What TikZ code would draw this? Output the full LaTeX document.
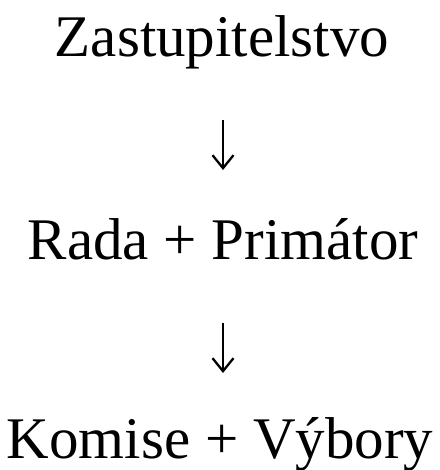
\documentclass[tikz,border=0pt]{standalone}
\usepackage{fontspec}
\setmainfont{Liberation Serif}
\usetikzlibrary{arrows.meta}
\begin{document}
\begin{tikzpicture}[x=1pt,y=1pt,
  lbl/.style={inner sep=0pt, anchor=base, font=\fontsize{59}{70}\selectfont},
  link/.style={line width=2.3pt, -{Straight Barb[length=13pt,width=21pt,line width=2.3pt]}}]
\useasboundingbox (0,0) rectangle (439,470);
\node[lbl] (z) at (222,413) {Zastupitelstvo};
\node[lbl] (r) at (223,210) {Rada + Primátor};
\node[lbl] (k) at (220,12) {Komise + Výbory};
\coordinate (a1s) at (223,350);
\coordinate (a1e) at (223,300);
\coordinate (a2s) at (223,147);
\coordinate (a2e) at (223,97);
\draw[link] (a1s) -- (a1e);
\draw[link] (a2s) -- (a2e);
\end{tikzpicture}
\end{document}
